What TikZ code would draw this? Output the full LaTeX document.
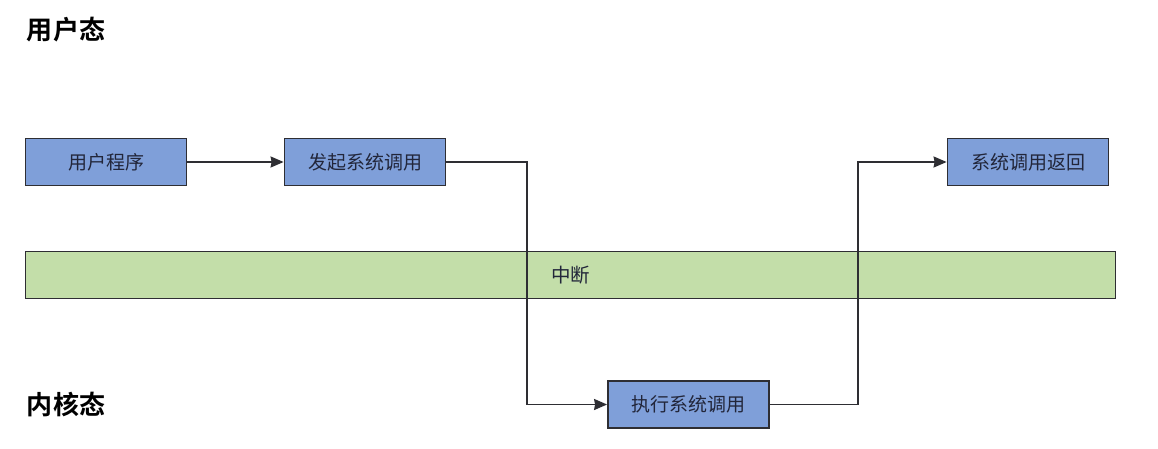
\documentclass[tikz,border=0pt]{standalone}
\usepackage{fontspec}
\setmainfont{Noto Sans CJK SC}
\newfontfamily\cjkbold{Noto Sans CJK SC Bold}
\usetikzlibrary{arrows.meta}
\definecolor{boxblue}{HTML}{7F9FD9}
\definecolor{bargreen}{HTML}{C3DEA9}
\definecolor{edgegray}{HTML}{2E2E33}
\definecolor{txtdark}{HTML}{22263A}
\tikzset{
  x=1pt, y=-1pt,
  procbox/.style={draw=edgegray, line width=1.8pt, fill=boxblue, minimum width=161pt,
    minimum height=47pt, inner sep=0pt, font=\fontsize{19}{22}\selectfont, text=txtdark},
  bandbox/.style={draw=edgegray, line width=1.8pt, fill=bargreen, minimum width=1090pt,
    minimum height=47pt, inner sep=0pt, font=\fontsize{19.5}{22}\selectfont, text=txtdark},
  statelabel/.style={font=\cjkbold\fontsize{26}{30}\selectfont, text=black, inner sep=0pt},
  flow/.style={draw=edgegray, line width=1.8pt, -{Stealth[length=13pt,width=11pt,inset=1pt]}},
}
\begin{document}
\begin{tikzpicture}
\fill[white] (0,0) rectangle (1158,449);
\useasboundingbox (0,0) rectangle (1158,449);

% layer labels
\node[statelabel] (user) at (66,30) {用户态};
\node[statelabel] (kernel) at (66,405) {内核态};

% interrupt band spanning both layers
\node[bandbox] (irq) at (570.5,275) {中断};

% process steps
\node[procbox] (prog) at (106,162) {用户程序};
\node[procbox] (call) at (365,162) {发起系统调用};
\node[procbox] (exec) at (688.5,404.5) {执行系统调用};
\node[procbox] (ret) at (1028,162) {系统调用返回};

% flow between steps
\draw[flow] (prog) -- (call);
\draw[flow] (call.east) -- (527,162) |- (exec.west);
\draw[flow] (exec.east) -- (858,404.5) |- (ret.west);
\end{tikzpicture}
\end{document}
